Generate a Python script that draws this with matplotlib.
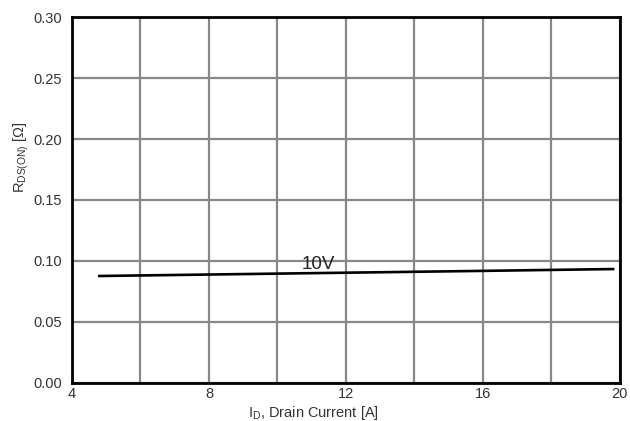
import numpy as np
import matplotlib.pyplot as plt

plt.rcParams['font.family'] = ['Liberation Sans', 'DejaVu Sans']

# data
current = [4.8, 8.0, 12.0, 16.0, 19.8]
rdson = [0.0877, 0.0889, 0.0904, 0.0919, 0.0934]
curve_label = '10V'

x_ticks = [4, 8, 12, 16, 20]
y_ticks = [0.00, 0.05, 0.10, 0.15, 0.20, 0.25, 0.30]

fig = plt.figure(figsize=(6.3, 4.21), dpi=100)
ax = fig.add_axes([0.1143, 0.0903, 0.8697, 0.8693])

ax.plot(current, rdson, color='black', linewidth=1.9)
ax.text(11.2, 0.0905, curve_label, fontsize=13.5, color='#222222', ha='center', va='bottom')

ax.set_xlim(4, 20)
ax.set_ylim(0, 0.30)
ax.set_xticks(x_ticks)
ax.set_yticks(y_ticks)
ax.set_yticklabels([f'{v:.2f}' for v in y_ticks])
ax.set_xticks(np.arange(4, 21, 2), minor=True)

ax.grid(True, which='both', axis='x', color='#888888', linewidth=1.6)
ax.grid(True, which='major', axis='y', color='#888888', linewidth=1.6)
ax.set_axisbelow(True)

for s in ax.spines.values():
    s.set_linewidth(2.0)
    s.set_color('black')

ax.tick_params(axis='both', which='both', length=0, labelsize=10.5, colors='#333333', pad=7)
ax.tick_params(axis='x', pad=3)

ax.set_xlabel(r'I$_\mathregular{D}$, Drain Current [A]', fontsize=10.5, color='#333333')
ax.set_ylabel(r'R$_\mathregular{DS(ON)}$ [Ω]', fontsize=10.5, color='#333333')
ax.xaxis.set_label_coords(0.44, -0.057)
ax.yaxis.set_label_coords(-0.075, 0.617)

fig.savefig('out.png', dpi=100)
